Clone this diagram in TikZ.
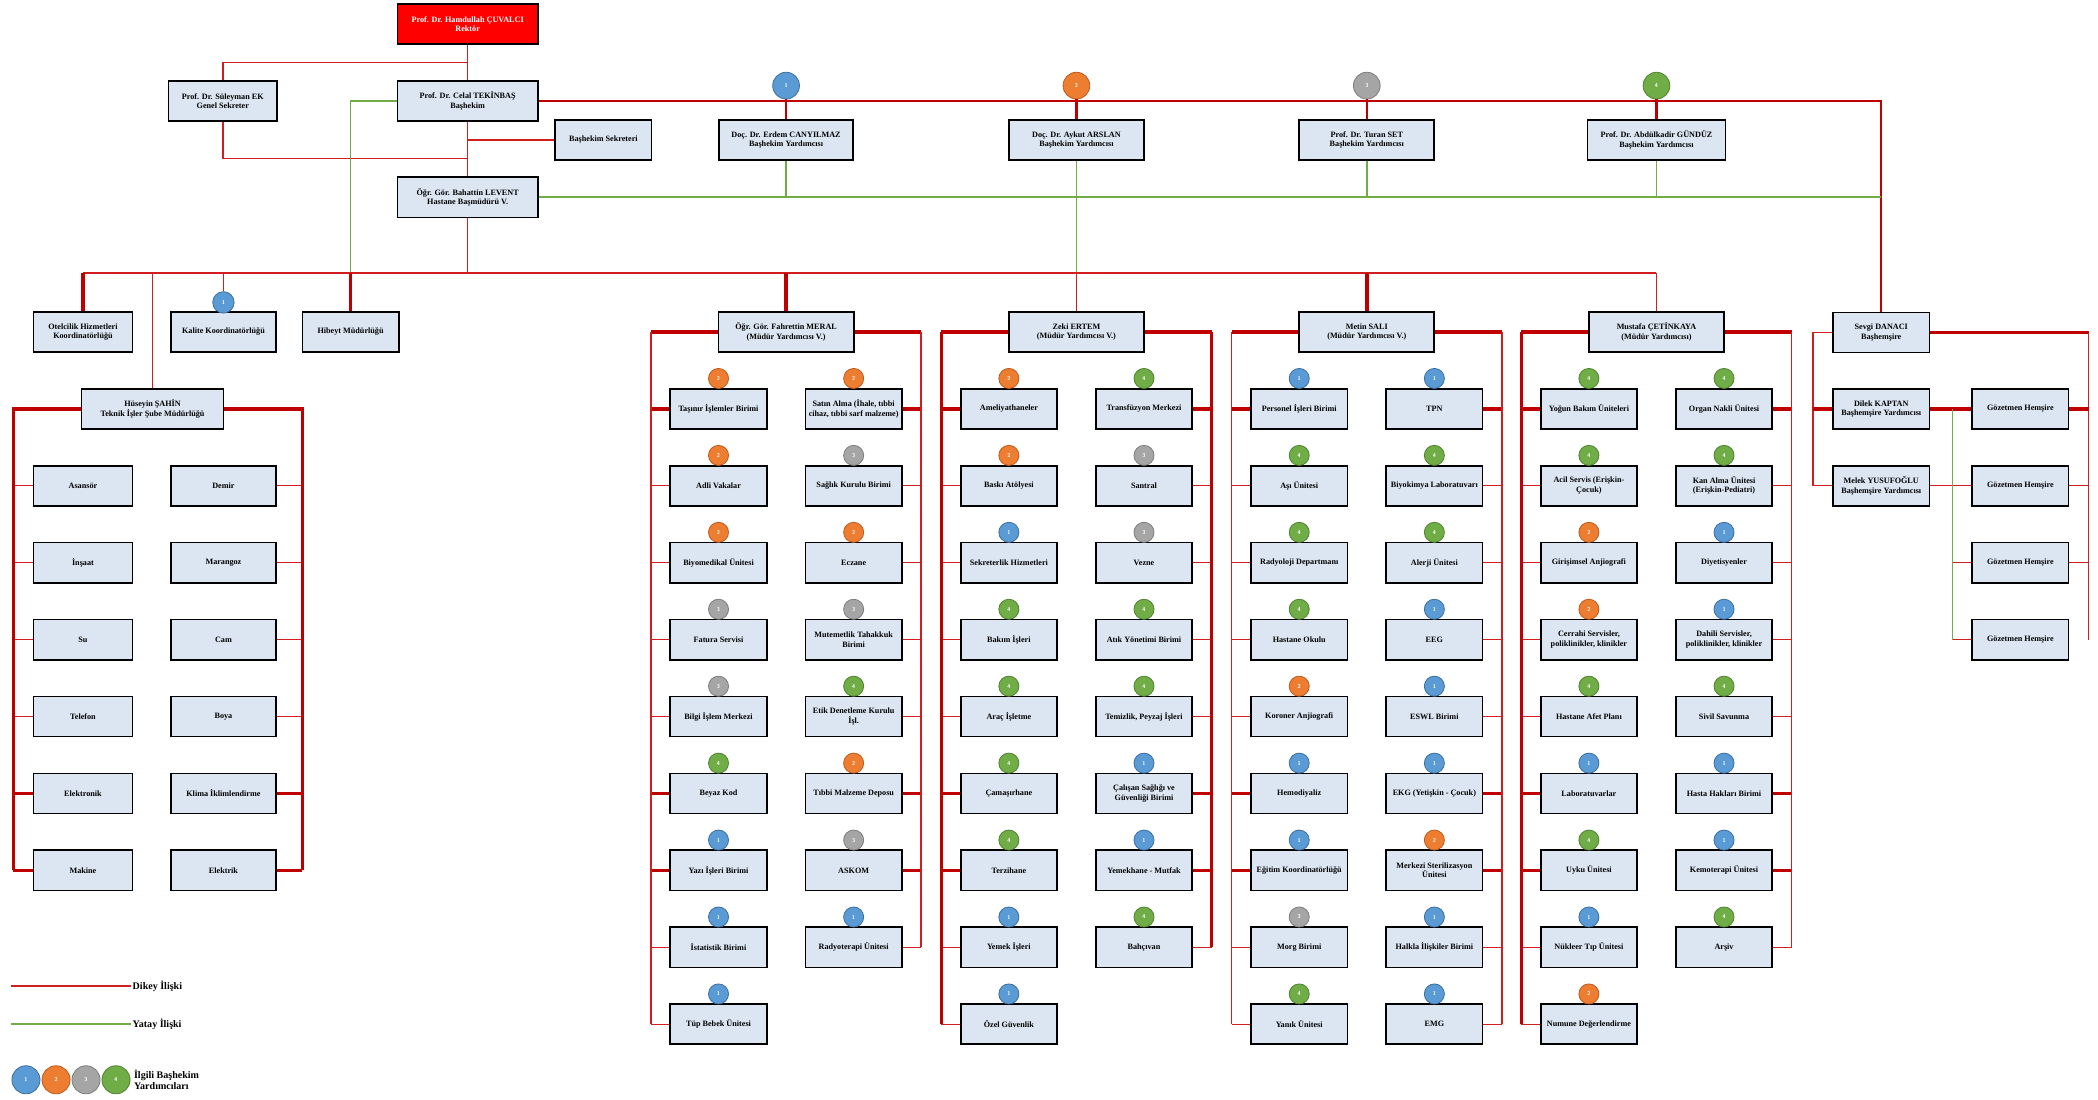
\documentclass[tikz,border=0pt]{standalone}
\usepackage{fontspec}
\setmainfont{Liberation Serif}
\usetikzlibrary{calc}
\definecolor{bx}{RGB}{220,230,242}
\definecolor{rthincol}{RGB}{210,30,30}
\definecolor{rthickcol}{RGB}{192,0,0}
\definecolor{glcol}{RGB}{112,173,71}
\definecolor{c1}{RGB}{91,155,213}
\definecolor{c2}{RGB}{237,125,49}
\definecolor{c3}{RGB}{165,165,165}
\definecolor{c4}{RGB}{112,173,71}
\definecolor{d1}{RGB}{60,110,160}
\definecolor{d2}{RGB}{190,90,30}
\definecolor{d3}{RGB}{125,125,125}
\definecolor{d4}{RGB}{80,130,50}
\newcommand\bxfont{\fontsize{6.1}{7}\selectfont\bfseries}
\newcommand\bdgfont{\fontsize{4.2}{4.2}\selectfont\sffamily\bfseries}
\newcommand\lgfont{\fontsize{7.5}{8.5}\selectfont\bfseries}
\newcommand{\orggroup}[7]{%
  \node[gbox] (#1) at (#2,248) {#3};
  \coordinate (#1BL) at (#2-101,248);
  \coordinate (#1BR) at (#2+101,248);
  \draw[rthick] (#1.west) -- (#1BL);
  \draw[rthick] (#1.east) -- (#1BR);
  \foreach \bc/\bt [count=\i] in {#4}{%
    \pgfmathsetmacro\yy{305.5+(\i-1)*57.5}
    \node[cbox] (#1L\i) at (#2-50.5,\yy) {\bt};
    \node[badge=\bc] (#1Lb\i) at ($(#1L\i.north)+(0,-7)$) {\bc};
    \coordinate (#1Llast) at (#1L\i.west -| #1BL);
    \draw[lnk\i] (#1L\i.west) -- (#1Llast);
  }
  \foreach \bc/\bt [count=\i] in {#5}{%
    \pgfmathsetmacro\yy{305.5+(\i-1)*57.5}
    \node[cbox] (#1R\i) at (#2+50.5,\yy) {\bt};
    \node[badge=\bc] (#1Rb\i) at ($(#1R\i.north)+(0,-7)$) {\bc};
    \coordinate (#1Rlast) at (#1R\i.east -| #1BR);
    \draw[lnk\i] (#1R\i.east) -- (#1Rlast);
  }
  \draw[#6] (#1BL) -- (#1Llast);
  \draw[#7] (#1BR) -- (#1Rlast);
}
\begin{document}
\begin{tikzpicture}[x=1pt,y=-1pt,
  rthin/.style={draw=rthincol, line width=1.1pt},
  rthick/.style={draw=rthickcol, line width=2.6pt},
  rmed/.style={draw=rthickcol, line width=1.8pt},
  gline/.style={draw=glcol, line width=1.3pt},
  lnk1/.style=rthick, lnk2/.style=rthin, lnk3/.style=rthin, lnk4/.style=rthin,
  lnk5/.style=rthin, lnk6/.style=rthick, lnk7/.style=rthick, lnk8/.style=rthin,
  lnk9/.style=rthin,
  basebox/.style={rectangle, draw=black, line width=1.3pt, fill=bx, inner sep=1pt,
    align=center, font=\bxfont, minimum height=30pt},
  cbox/.style={basebox, minimum width=72pt},
  gbox/.style={basebox, minimum width=101pt},
  badge/.style={circle, draw=d#1, line width=0.6pt, fill=c#1, minimum size=15pt,
    inner sep=0pt, text=white, font=\bdgfont},
]
\useasboundingbox (0,0) rectangle (1568,822);

% ---------- top ----------
\node[basebox, fill=red, text=white, minimum width=105pt] (rector) at (349.5,18)
  {Prof. Dr. Hamdullah ÇUVALCI\\Rektör};
\node[basebox, minimum width=81pt] (gs) at (166.5,75.5) {Prof. Dr. Süleyman EK\\Genel Sekreter};
\node[basebox, minimum width=105pt] (bash) at (349.5,75.5) {Prof. Dr. Celal TEKİNBAŞ\\Başhekim};
\node[basebox, minimum width=72pt] (sek) at (451,104.5) {Başhekim Sekreteri};
\node[basebox, minimum width=105pt] (levent) at (349.5,147.5) {Öğr. Gör. Bahattin LEVENT\\Hastane Başmüdürü V.};

\coordinate (j1) at (349.5,46.6);
\coordinate (j2) at (349.5,118.6);
\draw[rthin] (rector.south) -- (bash.north);
\draw[rthin] (gs.north) |- (j1);
\draw[rthin] (gs.south) |- (j2);
\draw[rthin] (bash.south) -- (levent.north);
\draw[rthin] (sek.west) -- (sek.west -| bash.south);

% deputies
\node[basebox, minimum width=100pt] (dep1) at (587.5,104.6) {Doç. Dr. Erdem CANYILMAZ\\Başhekim Yardımcısı};
\node[basebox, minimum width=101pt] (dep2) at (804.5,104.6) {Doç. Dr. Aykut ARSLAN\\Başhekim Yardımcısı};
\node[basebox, minimum width=101pt] (dep3) at (1021.5,104.6) {Prof. Dr. Turan SET\\Başhekim Yardımcısı};
\node[basebox, minimum width=103pt] (dep4) at (1238,104.6) {Prof. Dr. Abdülkadir GÜNDÜZ\\Başhekim Yardımcısı};
\node[badge=1, minimum size=20pt] (db1) at (587.5,64) {1};
\node[badge=2, minimum size=20pt] (db2) at (804.5,64) {2};
\node[badge=3, minimum size=20pt] (db3) at (1021.5,64) {3};
\node[badge=4, minimum size=20pt] (db4) at (1238,64) {4};

% ---------- second row ----------
\node[basebox, minimum width=74pt] (otel) at (62,248) {Otelcilik Hizmetleri\\Koordinatörlüğü};
\node[basebox, minimum width=78pt] (kal) at (167,248) {Kalite Koordinatörlüğü};
\node[badge=1, minimum size=16pt] (kalb) at (167,226) {1};
\node[basebox, minimum width=72pt] (hib) at (262,248) {Hibeyt Müdürlüğü};
\node[basebox, minimum width=106pt] (sahin) at (114,305.5) {Hüseyin ŞAHİN\\Teknik İşler Şube Müdürlüğü};

% Danaci
\node[basebox, minimum width=72pt] (danaci) at (1406,248.5) {Sevgi DANACI\\Başhemşire};

% bus
\coordinate (busL) at (62,204);
\coordinate (busR) at (1238,204);

% vertical/red relations at top
\draw[rmed] (bash.east) -| (danaci.north);
\draw[rmed] (db1.south) -- (dep1.north);
\draw[rmed] (db2.south) -- (dep2.north);
\draw[rmed] (db3.south) -- (dep3.north);
\draw[rmed] (db4.south) -- (dep4.north);

% green relations
\coordinate (gEnd) at (danaci.north |- levent.east);
\coordinate (hibBus) at (hib.north |- busL);
\draw[gline] (levent.east) -- (gEnd);
\draw[gline] (bash.west) -| (hibBus);
\draw[gline] (dep1.south) -- (dep1.south |- levent.east);
\draw[gline] (dep2.south) -- (dep2.south |- busL);
\draw[gline] (dep3.south) -- (dep3.south |- levent.east);
\draw[gline] (dep4.south) -- (dep4.south |- levent.east);

% ---------- groups ----------
\orggroup{ga}{587.5}{Öğr. Gör. Fahrettin MERAL\\(Müdür Yardımcısı V.)}%
{2/{Taşınır İşlemler Birimi}, 2/{Adli Vakalar}, 2/{Biyomedikal Ünitesi}, 3/{Fatura Servisi}, 3/{Bilgi İşlem Merkezi}, 4/{Beyaz Kod}, 1/{Yazı İşleri Birimi}, 1/{İstatistik Birimi}, 1/{Tüp Bebek Ünitesi}}%
{2/{Satın Alma (İhale, tıbbi\\cihaz, tıbbi sarf malzeme)}, 3/{Sağlık Kurulu Birimi}, 2/{Eczane}, 3/{Mutemetlik Tahakkuk\\Birimi}, 4/{Etik Denetleme Kurulu\\İşl.}, 2/{Tıbbi Malzeme Deposu}, 3/{ASKOM}, 1/{Radyoterapi Ünitesi}}%
{rthin}{rthin}

\orggroup{gb}{804.5}{Zeki ERTEM\\(Müdür Yardımcısı V.)}%
{2/{Ameliyathaneler}, 2/{Baskı Atölyesi}, 1/{Sekreterlik Hizmetleri}, 4/{Bakım İşleri}, 4/{Araç İşletme}, 4/{Çamaşırhane}, 4/{Terzihane}, 1/{Yemek İşleri}, 1/{Özel Güvenlik}}%
{4/{Transfüzyon Merkezi}, 3/{Santral}, 3/{Vezne}, 4/{Atık Yönetimi Birimi}, 4/{Temizlik, Peyzaj İşleri}, 1/{Çalışan Sağlığı ve\\Güvenliği Birimi}, 1/{Yemekhane - Mutfak}, 4/{Bahçıvan}}%
{rthick}{rthick}

\orggroup{gc}{1021.5}{Metin SALI\\(Müdür Yardımcısı V.)}%
{1/{Personel İşleri Birimi}, 4/{Aşı Ünitesi}, 4/{Radyoloji Departmanı}, 4/{Hastane Okulu}, 2/{Koroner Anjiografi}, 1/{Hemodiyaliz}, 1/{Eğitim Koordinatörlüğü}, 3/{Morg Birimi}, 4/{Yanık Ünitesi}}%
{1/{TPN}, 4/{Biyokimya Laboratuvarı}, 4/{Alerji Ünitesi}, 1/{EEG}, 1/{ESWL Birimi}, 1/{EKG (Yetişkin - Çocuk)}, 2/{Merkezi Sterilizasyon\\Ünitesi}, 1/{Halkla İlişkiler Birimi}, 1/{EMG}}%
{rthin}{rthin}

\orggroup{gd}{1238}{Mustafa ÇETİNKAYA\\(Müdür Yardımcısı)}%
{4/{Yoğun Bakım Üniteleri}, 4/{Acil Servis (Erişkin-\\Çocuk)}, 2/{Girişimsel Anjiografi}, 2/{Cerrahi Servisler,\\poliklinikler, klinikler}, 4/{Hastane Afet Planı}, 1/{Laboratuvarlar}, 4/{Uyku Ünitesi}, 1/{Nükleer Tıp Ünitesi}, 2/{Numune Değerlendirme}}%
{4/{Organ Nakli Ünitesi}, 4/{Kan Alma Ünitesi\\(Erişkin-Pediatri)}, 1/{Diyetisyenler}, 1/{Dahili Servisler,\\poliklinikler, klinikler}, 4/{Sivil Savunma}, 1/{Hasta Hakları Birimi}, 1/{Kemoterapi Ünitesi}, 4/{Arşiv}}%
{rthick}{rthin}

% bus and drops
\draw[rthin] (busL) -- (busR);
\draw[rthin] (levent.south) -- (levent.south |- busL);
\draw[rthick] (otel.north) -- (otel.north |- busL);
\draw[rthin] (sahin.north) -- (sahin.north |- busL);
\draw[rthin] (kalb.north) -- (kalb.north |- busL);
\draw[rthick] (hib.north) -- (hibBus);
\draw[rthick] (ga.north) -- (ga.north |- busL);
\draw[rthin] (gb.north) -- (gb.north |- busL);
\draw[rthick] (gc.north) -- (gc.north |- busL);
\draw[rthin] (gd.north) -- (busR);

% ---------- Sahin group ----------
\coordinate (sBL) at (10,305.5);
\coordinate (sBR) at (226,305.5);
\foreach \bt [count=\i] in {Asansör, İnşaat, Su, Telefon, Elektronik, Makine}{%
  \pgfmathsetmacro\yy{363+(\i-1)*57.5}
  \pgfmathtruncatemacro\k{\i+1}
  \node[basebox, minimum width=74pt] (sL\i) at (62,\yy) {\bt};
  \draw[lnk\k] (sL\i.west) -- (sL\i.west -| sBL);
}
\foreach \bt [count=\i] in {Demir, Marangoz, Cam, Boya, Klima İklimlendirme, Elektrik}{%
  \pgfmathsetmacro\yy{363+(\i-1)*57.5}
  \pgfmathtruncatemacro\k{\i+1}
  \node[basebox, minimum width=78pt] (sR\i) at (167,\yy) {\bt};
  \draw[lnk\k] (sR\i.east) -- (sR\i.east -| sBR);
}
\draw[rthick] (sahin.west) -- (sBL) -- (sL6.west -| sBL);
\draw[rthick] (sahin.east) -- (sBR) -- (sR6.east -| sBR);

% ---------- Danaci group ----------
\node[basebox, minimum width=72pt] (kaptan) at (1406,305.5) {Dilek KAPTAN\\Başhemşire Yardımcısı};
\node[basebox, minimum width=72pt] (yusuf) at (1406,363) {Melek YUSUFOĞLU\\Başhemşire Yardımcısı};
\foreach \i in {1,2,3,4}{%
  \pgfmathsetmacro\yy{305.5+(\i-1)*57.5}
  \node[basebox, minimum width=72pt] (goz\i) at (1510,\yy) {Gözetmen Hemşire};
}
\coordinate (dBL) at (1355,248.5);
\coordinate (dBR) at (1561,248.5);
\coordinate (dgT) at (1459,305.5);
\coordinate (dgB) at (1459,478);
\draw[rthin] (danaci.west) -- (dBL) |- (yusuf.west);
\draw[rthick] (kaptan.west) -- (kaptan.west -| dBL);
\draw[rthick] (danaci.east) -- (dBR);
\draw[rthin] (dBR) -- (goz4.east -| dBR);
\draw[rthick] (goz1.east) -- (goz1.east -| dBR);
\draw[rthin] (goz2.east) -- (goz2.east -| dBR);
\draw[rthin] (goz3.east) -- (goz3.east -| dBR);
\draw[rthick] (kaptan.east) -- (goz1.west);
\draw[rthin] (yusuf.east) -- (goz2.west);
\draw[rthin] (goz3.west) -- (goz3.west -| dgT);
\draw[rthin] (goz4.west) -- (goz4.west -| dgT);
\draw[glcol, line width=0.9pt] (dgT) -- (dgB);

% ---------- legend ----------
\coordinate (lr1) at (8,737);
\coordinate (lr2) at (98,737);
\coordinate (lg1) at (8,765.5);
\coordinate (lg2) at (98,765.5);
\draw[rthin] (lr1) -- (lr2);
\draw[gline] (lg1) -- (lg2);
\node[anchor=west, font=\lgfont, inner sep=1pt] (lt1) at (lr2) {Dikey İlişki};
\node[anchor=west, font=\lgfont, inner sep=1pt] (lt2) at (lg2) {Yatay İlişki};
\node[badge=1, minimum size=21pt] (lb1) at (19.4,807) {1};
\node[badge=2, minimum size=21pt] (lb2) at (41.9,807) {2};
\node[badge=3, minimum size=21pt] (lb3) at (64.3,807) {3};
\node[badge=4, minimum size=21pt] (lb4) at (86.7,807) {4};
\node[anchor=west, font=\lgfont, align=left, inner sep=1pt] (lt3) at (99,807) {İlgili Başhekim\\Yardımcıları};
\end{tikzpicture}
\end{document}
